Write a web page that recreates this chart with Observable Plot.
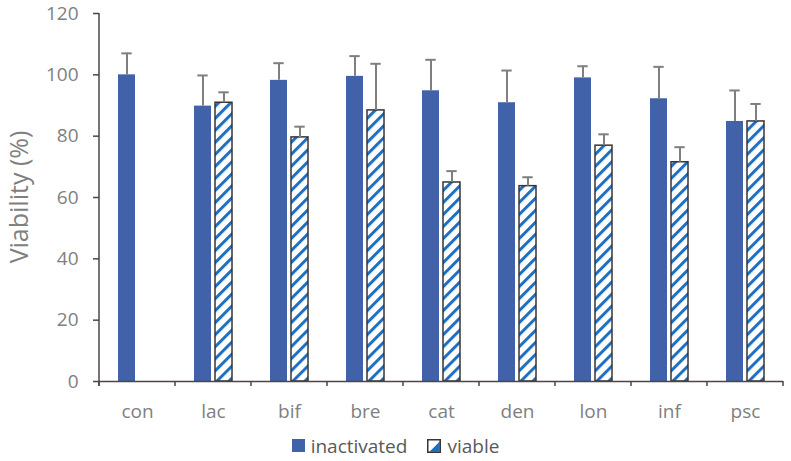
<!DOCTYPE html>
<html><head><meta charset="utf-8">
<script src="https://cdn.jsdelivr.net/npm/d3@7"></script>
<script src="https://cdn.jsdelivr.net/npm/@observablehq/plot@0.6"></script>
<style>
body{margin:0;background:#fff;font-family:"Open Sans",sans-serif;}
#legend{display:flex;justify-content:center;align-items:center;height:31px;font-size:19px;color:#595959;}
#legend .item{display:flex;align-items:center;margin:0 10px;}
#legend .item svg{margin-right:6px;}
</style></head><body>
<div id="chart"></div>
<div id="legend"></div>
<script>
const categories = ["con","lac","bif","bre","cat","den","lon","inf","psc"];
const series = ["inactivated","viable"];
const inactivated = [100,89.8,98.2,99.5,94.8,90.9,99.0,92.2,84.8];
const inactivatedSD = [7.0,10.0,5.6,6.6,10.1,10.5,3.8,10.4,10.1];
const viable = [null,90.9,79.6,88.4,64.9,63.7,76.9,71.5,84.8];
const viableSD = [null,3.4,3.5,15.2,3.7,2.9,3.7,4.9,5.7];
const yTicks = [0,20,40,60,80,100,120];
const yLabel = "Viability (%)";

const colInact = "#4162a9", colStripe = "#1f6fc1", colBorder = "#3a3434", colErr = "#7f7f7f", colAxis = "#4d4545", colText = "#808080";

const rows = [];
categories.forEach((c, i) => {
  if (inactivated[i] != null) rows.push({cat: c, series: "inactivated", value: inactivated[i], sd: inactivatedSD[i]});
  if (viable[i] != null) rows.push({cat: c, series: "viable", value: viable[i], sd: viableSD[i]});
});

const plot = Plot.plot({
  width: 791, height: 430,
  marginLeft: 96, marginRight: 5, marginTop: 13, marginBottom: 49,
  style: {fontFamily: "'Open Sans', sans-serif", fontSize: "19px", color: colText, background: "#fff", overflow: "visible"},
  fx: {domain: categories, padding: 0, label: null, axis: null},
  x: {domain: series, axis: null, paddingInner: 0.2, paddingOuter: 0.845},
  y: {domain: [0, 120], label: null},
  marks: [
    Plot.barY(rows.filter(d => d.series === "inactivated"), {fx: "cat", x: "series", y: "value", fill: colInact}),
    Plot.barY(rows.filter(d => d.series === "viable"), {fx: "cat", x: "series", y: "value", fill: "url(#hatch)", stroke: colBorder, strokeWidth: 1.5}),
    Plot.ruleX(rows, {fx: "cat", x: "series", y1: "value", y2: d => d.value + d.sd, stroke: colErr, strokeWidth: 2}),
    Plot.tickY(rows, {fx: "cat", x: "series", y: d => d.value + d.sd, stroke: colErr, strokeWidth: 2, insetLeft: 3.3, insetRight: 3.3}),
    Plot.ruleY([0], {stroke: colAxis, strokeWidth: 1.5}),
    Plot.axisY({ticks: yTicks, tickSize: 6, tickPadding: 15, stroke: colAxis, fill: colText, strokeWidth: 1.5, label: null}),
    Plot.axisFx({anchor: "bottom", tickSize: 0, tickPadding: 23, fill: colText, label: null})
  ]
});

const svg = d3.select(plot);
svg.insert("defs", ":first-child").html(
  `<pattern id="hatch" patternUnits="userSpaceOnUse" width="8.5" height="8.5" patternTransform="rotate(45)">
     <rect width="8.5" height="8.5" fill="#fff"/><rect width="3" height="8.5" fill="${colStripe}"/>
   </pattern>`);

const fx = plot.scale("fx"), y = plot.scale("y");
const g = svg.append("g").attr("stroke", colAxis).attr("stroke-width", 1.5);
// y axis line
g.append("line").attr("x1", fx.apply(categories[0])).attr("x2", fx.apply(categories[0]))
  .attr("y1", y.apply(120)).attr("y2", y.apply(0) + 5);
// category boundary ticks
categories.forEach((c, i) => {
  const x0 = fx.apply(c);
  g.append("line").attr("x1", x0).attr("x2", x0).attr("y1", y.apply(0)).attr("y2", y.apply(0) + 5);
  if (i === categories.length - 1) {
    const x1 = x0 + fx.bandwidth;
    g.append("line").attr("x1", x1).attr("x2", x1).attr("y1", y.apply(0)).attr("y2", y.apply(0) + 5);
  }
});
// y axis title
svg.append("text").attr("transform", `translate(18,${(y.apply(0) + y.apply(120)) / 2}) rotate(-90)`)
  .attr("text-anchor", "middle").attr("dominant-baseline", "central")
  .attr("fill", colText).style("font-size", "25px").text(yLabel);

document.getElementById("chart").appendChild(plot);

// legend
const legend = d3.select("#legend");
const it1 = legend.append("div").attr("class", "item");
it1.append("svg").attr("width", 13).attr("height", 13).append("rect").attr("width", 13).attr("height", 13).attr("fill", colInact);
it1.append("span").text(series[0]);
const it2 = legend.append("div").attr("class", "item");
const s2 = it2.append("svg").attr("width", 14).attr("height", 14);
s2.append("rect").attr("x", 0.75).attr("y", 0.75).attr("width", 12.5).attr("height", 12.5).attr("fill", "#fff").attr("stroke", colBorder).attr("stroke-width", 1.5);
s2.append("polygon").attr("points", "13,2 13,13 2,13").attr("fill", colStripe);
s2.append("line").attr("x1", 3).attr("y1", 11).attr("x2", 11).attr("y2", 3).attr("stroke", "#fff").attr("stroke-width", 1.5);
it2.append("span").text(series[1]);
</script>
</body></html>
